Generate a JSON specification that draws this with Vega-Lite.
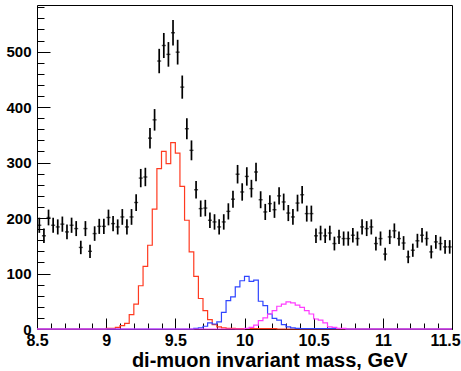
{
  "$schema": "https://vega.github.io/schema/vega-lite/v6.json",
  "width": 415,
  "height": 324,
  "autosize": {"type": "none"},
  "padding": {"left": 37, "top": 5, "right": 9, "bottom": 42},
  "background": "white",
  "config": {"view": {"stroke": "black", "strokeWidth": 1}, "font": "Liberation Sans"},
  "datasets": {
    "pts": [
      {"m": 8.5167, "v": 187, "e": 13.7}, {"m": 8.55, "v": 168, "e": 13.0}, {"m": 8.5833, "v": 201, "e": 14.2},
      {"m": 8.6167, "v": 187, "e": 13.7}, {"m": 8.65, "v": 184, "e": 13.6}, {"m": 8.6833, "v": 189, "e": 13.7},
      {"m": 8.7167, "v": 175, "e": 13.2}, {"m": 8.75, "v": 187, "e": 13.7}, {"m": 8.7833, "v": 181, "e": 13.5},
      {"m": 8.8167, "v": 147, "e": 12.1}, {"m": 8.85, "v": 181, "e": 13.5}, {"m": 8.8833, "v": 140, "e": 11.8},
      {"m": 8.9167, "v": 172, "e": 13.1}, {"m": 8.95, "v": 185, "e": 13.6}, {"m": 8.9833, "v": 185, "e": 13.6},
      {"m": 9.0167, "v": 201, "e": 14.2}, {"m": 9.05, "v": 190, "e": 13.8}, {"m": 9.0833, "v": 184, "e": 13.6},
      {"m": 9.1167, "v": 202, "e": 14.2}, {"m": 9.15, "v": 184, "e": 13.6}, {"m": 9.1833, "v": 202, "e": 14.2},
      {"m": 9.2167, "v": 228, "e": 15.1}, {"m": 9.25, "v": 272, "e": 16.5}, {"m": 9.2833, "v": 274, "e": 16.6},
      {"m": 9.3167, "v": 344, "e": 18.5}, {"m": 9.35, "v": 377, "e": 19.4}, {"m": 9.3833, "v": 483, "e": 22.0},
      {"m": 9.4167, "v": 511, "e": 22.6}, {"m": 9.45, "v": 495, "e": 22.2}, {"m": 9.4833, "v": 534, "e": 23.1},
      {"m": 9.5167, "v": 499, "e": 22.3}, {"m": 9.55, "v": 436, "e": 20.9}, {"m": 9.5833, "v": 361, "e": 19.0},
      {"m": 9.6167, "v": 322, "e": 17.9}, {"m": 9.65, "v": 251, "e": 15.8}, {"m": 9.6833, "v": 217, "e": 14.7},
      {"m": 9.7167, "v": 218, "e": 14.8}, {"m": 9.75, "v": 196, "e": 14.0}, {"m": 9.7833, "v": 193, "e": 13.9},
      {"m": 9.8167, "v": 184, "e": 13.6}, {"m": 9.85, "v": 193, "e": 13.9}, {"m": 9.8833, "v": 212, "e": 14.6},
      {"m": 9.9167, "v": 234, "e": 15.3}, {"m": 9.95, "v": 279, "e": 16.7}, {"m": 9.9833, "v": 247, "e": 15.7},
      {"m": 10.0167, "v": 275, "e": 16.6}, {"m": 10.05, "v": 253, "e": 15.9}, {"m": 10.0833, "v": 283, "e": 16.8},
      {"m": 10.1167, "v": 233, "e": 15.3}, {"m": 10.15, "v": 211, "e": 14.5}, {"m": 10.1833, "v": 226, "e": 15.0},
      {"m": 10.2167, "v": 215, "e": 14.7}, {"m": 10.25, "v": 240, "e": 15.5}, {"m": 10.2833, "v": 229, "e": 15.1},
      {"m": 10.3167, "v": 209, "e": 14.5}, {"m": 10.35, "v": 202, "e": 14.2}, {"m": 10.3833, "v": 227, "e": 15.1},
      {"m": 10.4167, "v": 242, "e": 15.6}, {"m": 10.45, "v": 208, "e": 14.4}, {"m": 10.4833, "v": 208, "e": 14.4},
      {"m": 10.5167, "v": 168, "e": 13.0}, {"m": 10.55, "v": 173, "e": 13.2}, {"m": 10.5833, "v": 168, "e": 13.0},
      {"m": 10.6167, "v": 173, "e": 13.2}, {"m": 10.65, "v": 154, "e": 12.4}, {"m": 10.6833, "v": 166, "e": 12.9},
      {"m": 10.7167, "v": 163, "e": 12.8}, {"m": 10.75, "v": 163, "e": 12.8}, {"m": 10.7833, "v": 169, "e": 13.0},
      {"m": 10.8167, "v": 163, "e": 12.8}, {"m": 10.85, "v": 184, "e": 13.6}, {"m": 10.8833, "v": 181, "e": 13.5},
      {"m": 10.9167, "v": 184, "e": 13.6}, {"m": 10.95, "v": 154, "e": 12.4}, {"m": 10.9833, "v": 163, "e": 12.8},
      {"m": 11.0167, "v": 135, "e": 11.6}, {"m": 11.05, "v": 166, "e": 12.9}, {"m": 11.0833, "v": 177, "e": 13.3},
      {"m": 11.1167, "v": 163, "e": 12.8}, {"m": 11.15, "v": 155, "e": 12.4}, {"m": 11.1833, "v": 130, "e": 11.4},
      {"m": 11.2167, "v": 142, "e": 11.9}, {"m": 11.25, "v": 159, "e": 12.6}, {"m": 11.2833, "v": 169, "e": 13.0},
      {"m": 11.3167, "v": 163, "e": 12.8}, {"m": 11.35, "v": 139, "e": 11.8}, {"m": 11.3833, "v": 157, "e": 12.5},
      {"m": 11.4167, "v": 154, "e": 12.4}, {"m": 11.45, "v": 148, "e": 12.2}, {"m": 11.4833, "v": 148, "e": 12.2}
    ],
    "hist": [
      {"s": "red", "m": 8.5, "v": 0}, {"s": "red", "m": 9.0, "v": 1}, {"s": "red", "m": 9.0333, "v": 1},
      {"s": "red", "m": 9.0667, "v": 3}, {"s": "red", "m": 9.1, "v": 6}, {"s": "red", "m": 9.1333, "v": 10},
      {"s": "red", "m": 9.1667, "v": 26}, {"s": "red", "m": 9.2, "v": 45}, {"s": "red", "m": 9.2333, "v": 78},
      {"s": "red", "m": 9.2667, "v": 113}, {"s": "red", "m": 9.3, "v": 151}, {"s": "red", "m": 9.3333, "v": 216},
      {"s": "red", "m": 9.3667, "v": 289}, {"s": "red", "m": 9.4, "v": 320}, {"s": "red", "m": 9.4333, "v": 298},
      {"s": "red", "m": 9.4667, "v": 336}, {"s": "red", "m": 9.5, "v": 317}, {"s": "red", "m": 9.5333, "v": 257},
      {"s": "red", "m": 9.5667, "v": 196}, {"s": "red", "m": 9.6, "v": 139}, {"s": "red", "m": 9.6333, "v": 95},
      {"s": "red", "m": 9.6667, "v": 55}, {"s": "red", "m": 9.7, "v": 33}, {"s": "red", "m": 9.7333, "v": 17},
      {"s": "red", "m": 9.7667, "v": 8}, {"s": "red", "m": 9.8, "v": 4}, {"s": "red", "m": 9.8333, "v": 2},
      {"s": "red", "m": 9.8667, "v": 1}, {"s": "red", "m": 9.9, "v": 1}, {"s": "red", "m": 9.9333, "v": 0.6},
      {"s": "red", "m": 10.2333, "v": 0}, {"s": "red", "m": 11.5, "v": 0},
      {"s": "blue", "m": 8.5, "v": 0}, {"s": "blue", "m": 9.6333, "v": 1}, {"s": "blue", "m": 9.6667, "v": 2},
      {"s": "blue", "m": 9.7, "v": 5}, {"s": "blue", "m": 9.7333, "v": 11}, {"s": "blue", "m": 9.7667, "v": 9},
      {"s": "blue", "m": 9.8, "v": 13}, {"s": "blue", "m": 9.8333, "v": 30}, {"s": "blue", "m": 9.8667, "v": 51},
      {"s": "blue", "m": 9.9, "v": 58}, {"s": "blue", "m": 9.9333, "v": 76}, {"s": "blue", "m": 9.9667, "v": 87},
      {"s": "blue", "m": 10.0, "v": 95}, {"s": "blue", "m": 10.0333, "v": 86}, {"s": "blue", "m": 10.0667, "v": 88},
      {"s": "blue", "m": 10.1, "v": 50}, {"s": "blue", "m": 10.1333, "v": 42}, {"s": "blue", "m": 10.1667, "v": 27},
      {"s": "blue", "m": 10.2, "v": 19}, {"s": "blue", "m": 10.2333, "v": 16}, {"s": "blue", "m": 10.2667, "v": 8},
      {"s": "blue", "m": 10.3, "v": 4}, {"s": "blue", "m": 10.3333, "v": 2}, {"s": "blue", "m": 10.3667, "v": 1},
      {"s": "blue", "m": 10.4, "v": 0.6}, {"s": "blue", "m": 10.7333, "v": 0}, {"s": "blue", "m": 11.5, "v": 0},
      {"s": "mag", "m": 8.5, "v": 0}, {"s": "mag", "m": 10.0, "v": 1}, {"s": "mag", "m": 10.0333, "v": 3},
      {"s": "mag", "m": 10.0667, "v": 7}, {"s": "mag", "m": 10.1, "v": 15}, {"s": "mag", "m": 10.1333, "v": 20},
      {"s": "mag", "m": 10.1667, "v": 27}, {"s": "mag", "m": 10.2, "v": 33}, {"s": "mag", "m": 10.2333, "v": 41},
      {"s": "mag", "m": 10.2667, "v": 45}, {"s": "mag", "m": 10.3, "v": 49}, {"s": "mag", "m": 10.3333, "v": 47},
      {"s": "mag", "m": 10.3667, "v": 43}, {"s": "mag", "m": 10.4, "v": 39}, {"s": "mag", "m": 10.4333, "v": 33},
      {"s": "mag", "m": 10.4667, "v": 27}, {"s": "mag", "m": 10.5, "v": 18}, {"s": "mag", "m": 10.5333, "v": 16},
      {"s": "mag", "m": 10.5667, "v": 11}, {"s": "mag", "m": 10.6, "v": 4}, {"s": "mag", "m": 10.6333, "v": 3},
      {"s": "mag", "m": 10.6667, "v": 1}, {"s": "mag", "m": 10.7, "v": 1}, {"s": "mag", "m": 10.7333, "v": 0},
      {"s": "mag", "m": 11.5, "v": 0}
    ]
  },
  "encoding": {
    "x": {
      "field": "m",
      "type": "quantitative",
      "scale": {"domain": [8.5, 11.5], "nice": false, "zero": false},
      "axis": {
        "values": [8.5, 8.6, 8.7, 8.8, 8.9, 9.0, 9.1, 9.2, 9.3, 9.4, 9.5, 9.6, 9.7, 9.8, 9.9, 10.0, 10.1, 10.2, 10.3, 10.4, 10.5, 10.6, 10.7, 10.8, 10.9, 11.0, 11.1, 11.2, 11.3, 11.4, 11.5],
        "format": "~g",
        "labelExpr": "datum.value % 0.5 === 0 ? datum.label : ''",
        "tickSize": {"condition": {"test": "datum.value % 0.5 === 0", "value": -11}, "value": -6},
        "labelOffset": {"condition": {"test": "datum.value === 11.5", "value": -7}, "value": 0},
        "tickColor": "black",
        "tickWidth": 1,
        "domain": false,
        "grid": false,
        "labelPadding": 14,
        "labelFont": "Liberation Sans",
        "labelFontSize": 16,
        "labelFontWeight": "bold",
        "labelColor": "black",
        "labelOverlap": false,
        "labelFlush": false,
        "labelBound": false,
        "title": "di-muon invariant mass, GeV",
        "titleFont": "Liberation Sans",
        "titleFontSize": 20,
        "titleFontWeight": "bold",
        "titleColor": "black",
        "titleAnchor": "end",
        "titleAlign": "right",
        "titleBaseline": "alphabetic",
        "titleX": 370,
        "titleY": 37
      }
    },
    "y": {
      "field": "v",
      "type": "quantitative",
      "scale": {"domain": [0, 584], "nice": false},
      "axis": {
        "values": [0, 20, 40, 60, 80, 100, 120, 140, 160, 180, 200, 220, 240, 260, 280, 300, 320, 340, 360, 380, 400, 420, 440, 460, 480, 500, 520, 540, 560, 580],
        "format": "d",
        "labelExpr": "datum.value % 100 === 0 ? datum.label : ''",
        "tickSize": {"condition": {"test": "datum.value % 100 === 0", "value": -13}, "value": -7},
        "tickColor": "black",
        "tickWidth": 1,
        "domain": false,
        "grid": false,
        "labelPadding": 19,
        "labelFont": "Liberation Sans",
        "labelFontSize": 15,
        "labelFontWeight": "bold",
        "labelColor": "black",
        "labelOverlap": false,
        "labelFlush": false,
        "labelBound": false,
        "title": null
      }
    }
  },
  "layer": [
    {
      "data": {"name": "hist"},
      "transform": [{"filter": "datum.s === 'red'"}],
      "mark": {"type": "line", "interpolate": "step-after", "color": "#ff3a20", "strokeWidth": 1.2},
      "encoding": {}
    },
    {
      "data": {"name": "hist"},
      "transform": [{"filter": "datum.s === 'blue'"}],
      "mark": {"type": "line", "interpolate": "step-after", "color": "#2f45ff", "strokeWidth": 1.2},
      "encoding": {}
    },
    {
      "data": {"name": "hist"},
      "transform": [{"filter": "datum.s === 'mag'"}],
      "mark": {"type": "line", "interpolate": "step-after", "color": "#ff3cff", "strokeWidth": 1.2},
      "encoding": {}
    },
    {
      "data": {"name": "pts"},
      "mark": {"type": "errorbar", "ticks": false, "color": "black", "thickness": 1.7},
      "encoding": {"yError": {"field": "e"}}
    },
    {
      "data": {"name": "pts"},
      "mark": {"type": "tick", "orient": "horizontal", "color": "black", "size": 4, "thickness": 1.4}
    }
  ]
}
